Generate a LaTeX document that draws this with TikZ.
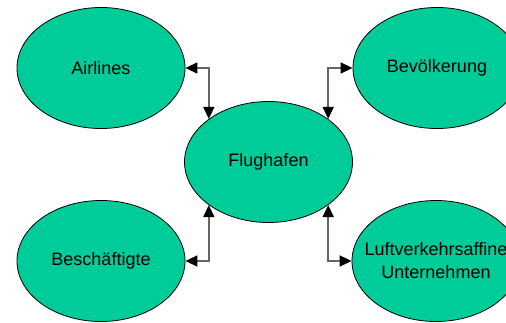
\documentclass[tikz,border=0pt]{standalone}
\usepackage{fontspec}
\setmainfont{Liberation Sans}
\usetikzlibrary{arrows.meta,shapes.geometric}
\definecolor{blobgreen}{RGB}{0,204,153}
\begin{document}
\begin{tikzpicture}[x=1pt,y=-1pt,
    blob/.style={ellipse,draw=black,line width=0.8pt,fill=blobgreen,
      minimum width=168pt,minimum height=121pt,inner sep=0pt,align=center,
      font=\fontsize{18}{23}\selectfont},
    link/.style={>={Triangle[length=12pt,width=11pt,color=black]},<->,
      black!60,line width=1.5pt}]
        \clip (0,0) rectangle (506,322);
        \fill[white] (0,0) rectangle (506,322);
        \node[blob] (flug) at (268.5,162) {Flughafen};
        \node[blob] (air) at (101,68) {Airlines};
        \node[blob] (bev) at (437,68) {Bevölkerung};
        \node[blob] (besch) at (101,261) {Beschäftigte};
        \node[blob,inner xsep=-20pt] (luft) at (436,261) {Luftverkehrsaffine\\Unternehmen};
        \draw[link] (air.east) -| (flug.north west);
        \draw[link] (bev.west) -| (flug.north east);
        \draw[link] (besch.east) -| (flug.south west);
        \draw[link] (luft.west) -| (flug.south east);
      \end{tikzpicture}
\end{document}
